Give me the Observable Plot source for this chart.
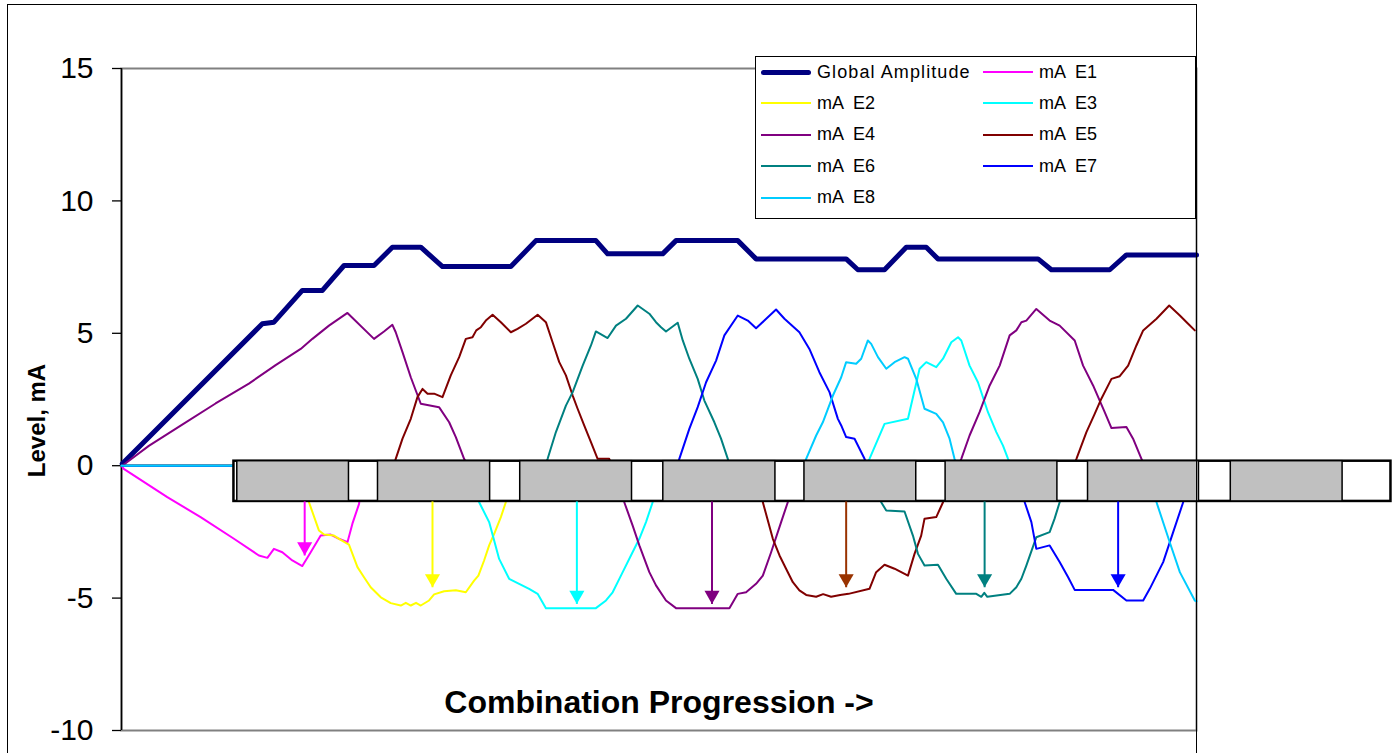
<!DOCTYPE html>
<html><head><meta charset="utf-8">
<script src="https://cdn.jsdelivr.net/npm/d3@7"></script>
<script src="https://cdn.jsdelivr.net/npm/@observablehq/plot@0.6"></script>
<style>
body{margin:0;background:#fff;overflow:hidden;font-family:"Liberation Sans",Arial,sans-serif}
#wrap{position:relative;width:1396px;height:753px;overflow:hidden}
#frame{position:absolute;left:7px;top:4px;width:1190px;height:800px;border:1.5px solid #000;pointer-events:none;box-sizing:border-box}
#legend{position:absolute;left:755px;top:56px;width:441px;height:163px;border:1px solid #000;background:#fff;box-sizing:border-box}
.item{position:absolute;height:24px;display:flex;align-items:center;white-space:pre;font-size:18px;color:#000}
.sw{display:inline-block;width:50px;margin-right:6px}
</style></head>
<body><div id="wrap"><div id="chart"></div><div id="legend"></div><div id="frame"></div></div>
<script>
// progression (0..100 across the plot), level in mA
const yTicks = [-10, -5, 0, 5, 10, 15];
const globalAmp = [[0.07,0.07],[13.10,5.36],[14.18,5.42],[16.82,6.62],[18.69,6.62],[20.70,7.56],[23.49,7.56],[25.20,8.25],[27.84,8.25],[29.86,7.52],[36.22,7.52],[38.55,8.5],[44.13,8.5],[45.22,8.0],[50.34,8.0],[51.58,8.5],[57.33,8.5],[59.03,7.81],[67.41,7.81],[68.50,7.4],[70.98,7.4],[73.00,8.25],[74.86,8.25],[75.95,7.81],[85.26,7.81],[86.50,7.4],[91.93,7.4],[93.48,7.96],[100,7.96]];
const e1 = [[0,0],[0.21,-0.12],[4.26,-1.19],[7.36,-1.94],[10.46,-2.76],[12.78,-3.39],[13.57,-3.48],[14.18,-3.14],[14.96,-3.27],[15.89,-3.58],[16.82,-3.79],[17.60,-3.27],[18.53,-2.64],[19.46,-2.60],[20.23,-2.76],[21.02,-2.89],[21.48,-2.19],[22.10,-1.44],[22.44,0],[100,0]];
const e2 = [[0,0],[17.13,0],[17.44,-1.38],[18.37,-2.45],[18.84,-2.60],[19.77,-2.64],[20.39,-2.80],[21.16,-2.98],[21.95,-3.83],[22.56,-4.21],[23.18,-4.59],[24.12,-4.97],[25.05,-5.19],[25.98,-5.28],[26.45,-5.18],[26.91,-5.28],[27.4,-5.18],[27.84,-5.28],[28.61,-5.09],[29.08,-4.86],[30.01,-4.74],[31.10,-4.70],[32.03,-4.78],[32.80,-4.34],[33.20,-4.15],[33.73,-3.58],[34.20,-3.01],[34.67,-2.57],[35.29,-1.94],[35.75,-1.38],[36.03,0],[100,0]];
const e3 = [[0,0],[32.96,0],[33.27,-1.38],[34.20,-2.13],[35.13,-3.52],[36.06,-4.27],[36.99,-4.46],[37.92,-4.65],[38.71,-4.84],[39.48,-5.38],[44.13,-5.38],[45.07,-5.09],[45.69,-4.78],[46.46,-4.15],[47.39,-3.39],[48.17,-2.76],[48.79,-2.13],[49.41,-1.38],[49.72,0],[69.27,0],[69.58,0.26],[70.98,1.58],[73.16,1.77],[74.24,3.66],[74.86,3.91],[75.79,3.72],[76.42,4.04],[77.19,4.66],[77.82,4.85],[78.12,4.73],[78.89,3.78],[79.67,3.15],[80.60,2.02],[81.38,1.27],[82.00,0.76],[82.47,0.26],[82.77,0],[100,0]];
const e4 = [[0.07,0],[2.54,0.75],[5.65,1.55],[8.75,2.35],[11.85,3.1],[14.34,3.8],[16.67,4.41],[17.76,4.79],[19.30,5.29],[21.02,5.77],[23.49,4.79],[24.42,5.07],[25.20,5.32],[25.51,5.04],[26.14,4.29],[26.91,3.34],[27.84,2.34],[29.54,2.21],[30.48,1.64],[31.10,1.08],[31.87,0.26],[32.22,0],[46.46,0],[46.77,-1.38],[47.55,-2.26],[48.17,-3.01],[49.10,-4.02],[49.72,-4.52],[50.65,-5.09],[51.58,-5.38],[56.55,-5.38],[57.33,-4.84],[58.10,-4.78],[59.03,-4.46],[59.66,-4.15],[60.43,-3.27],[61.36,-2.13],[61.98,-1.38],[62.29,0],[77.84,0],[78.12,0.26],[78.89,1.14],[79.82,2.02],[80.76,3.03],[81.69,3.78],[82.62,4.92],[83.24,5.11],[83.71,5.42],[84.17,5.48],[85.10,5.92],[86.34,5.48],[87.27,5.29],[88.67,4.73],[89.45,3.78],[90.38,3.03],[91.46,2.02],[92.09,1.42],[93.48,1.46],[94.10,1.02],[94.88,0.26],[95.16,0],[100,0]];
const e5 = [[0,0],[25.33,0],[25.51,0.26],[26.14,1.02],[26.91,1.77],[27.53,2.59],[28.00,2.90],[28.47,2.72],[29.08,2.72],[29.86,2.59],[30.63,3.41],[31.41,4.10],[32.03,4.79],[32.65,4.85],[33.00,5.11],[33.43,5.23],[33.89,5.48],[34.52,5.70],[35.29,5.42],[36.22,5.04],[36.84,5.17],[37.62,5.36],[38.71,5.70],[39.48,5.42],[40.10,4.66],[40.72,3.91],[41.34,3.41],[41.97,2.65],[42.43,2.15],[43.04,1.52],[43.67,0.89],[44.29,0.26],[45.37,0.26],[45.62,0],[59.31,0],[59.66,-1.38],[60.59,-2.76],[61.21,-3.39],[61.82,-3.89],[62.45,-4.40],[63.06,-4.71],[63.69,-4.88],[64.62,-4.95],[65.27,-4.85],[66.01,-4.95],[66.85,-4.88],[67.63,-4.84],[69.58,-4.65],[70.20,-4.02],[70.98,-3.74],[71.91,-3.89],[73.16,-4.15],[73.77,-3.33],[74.39,-2.64],[74.70,-2.00],[75.79,-1.94],[76.42,-1.38],[76.72,0],[88.55,0],[88.83,0.26],[89.76,1.27],[90.53,1.96],[91.15,2.53],[92.09,3.28],[92.86,3.38],[93.64,3.78],[94.41,4.54],[95.04,5.11],[96.28,5.55],[97.46,6.05],[98.45,5.67],[99.22,5.36],[99.84,5.11]];
const e6 = [[0,0],[39.39,0],[39.64,0.26],[40.41,1.27],[41.34,2.27],[41.97,2.78],[42.90,3.78],[43.67,4.54],[44.13,5.07],[45.22,4.82],[46.00,5.29],[46.93,5.55],[48.02,6.05],[49.10,5.74],[49.72,5.42],[50.19,5.23],[50.65,5.07],[51.74,5.40],[52.21,4.73],[52.82,4.04],[53.60,3.28],[54.22,2.46],[55.15,1.64],[55.77,1.02],[56.40,0.26],[56.61,0],[70.39,0],[70.67,-1.38],[71.14,-1.69],[72.84,-1.73],[73.62,-2.64],[74.09,-3.33],[74.70,-3.77],[75.95,-3.74],[76.72,-4.27],[77.65,-4.84],[79.52,-4.84],[79.98,-4.95],[80.26,-4.80],[80.54,-4.95],[82.62,-4.84],[83.24,-4.59],[83.71,-4.27],[84.17,-3.77],[85.10,-2.70],[86.34,-2.51],[86.80,-2.0],[87.27,-1.38],[87.52,0],[100,0]];
const e7 = [[0,0],[51.68,0],[51.89,0.26],[52.82,1.39],[53.60,2.21],[54.38,3.15],[55.31,3.97],[56.08,4.92],[57.33,5.67],[58.26,5.48],[59.03,5.19],[59.80,5.48],[60.89,5.90],[61.67,5.55],[63.06,5.04],[63.99,4.41],[64.92,3.53],[65.86,2.78],[66.64,1.77],[66.95,1.52],[67.41,1.08],[68.19,1.02],[69.12,0.26],[69.37,0],[83.80,0],[84.02,-1.38],[84.64,-2.13],[85.10,-3.14],[86.34,-3.01],[87.27,-3.64],[88.06,-4.21],[88.67,-4.69],[92.24,-4.69],[93.48,-5.09],[95.04,-5.09],[95.65,-4.65],[96.90,-3.64],[97.83,-2.51],[98.76,-1.38],[98.97,0],[100,0]];
const e8 = [[0,0],[63.50,0],[63.69,0.26],[64.62,1.14],[65.24,1.64],[66.18,2.65],[66.95,3.34],[67.41,3.91],[68.34,3.85],[68.81,4.04],[69.43,4.73],[69.74,4.60],[70.37,4.10],[71.14,3.66],[71.91,3.91],[72.84,4.10],[73.16,4.04],[73.93,3.28],[74.70,2.15],[75.79,1.96],[76.42,1.64],[77.03,1.02],[77.49,0.26],[77.75,0],[96.00,0],[96.28,-1.38],[97.51,-2.89],[98.45,-4.02],[99.84,-5.09],[100,-5.12]];

const seriesNames = ["Global Amplitude","mA  E1","mA  E2","mA  E3","mA  E4","mA  E5","mA  E6","mA  E7","mA  E8"];
const seriesColors = ["#000080","#FF00FF","#FFFF00","#00FFFF","#800080","#800000","#008080","#0000FF","#00CCFF"];
const seriesWidths = [5,2,2,2,2,2,2,2,2];
const seriesData = [globalAmp,e1,e2,e3,e4,e5,e6,e7,e8];

// combination bar
const barStart = 10.46, barEnd = 118.09, barTop = 0.17, barBottom = -1.35;
const barGrayStart = [10.77,23.86,37.09,50.40,63.53,76.66,89.91,103.19];
const barGrayEnd = [21.16,34.29,47.49,60.83,73.93,87.06,100.23,113.59];

// cathode arrows
const arrowX = [17.04,28.93,42.36,54.93,67.41,80.29,92.71];
const arrowTip = [-3.39,-4.59,-5.22,-5.22,-4.59,-4.59,-4.59];
const arrowColors = ["#FF00FF","#FFFF00","#00FFFF","#800080","#993300","#008080","#0000FF"];

const arrows = arrowX.map((x,i)=>({x, tip: arrowTip[i], c: arrowColors[i]}));
const grays = barGrayStart.map((s,i)=>({s, e: barGrayEnd[i]}));

const downTriangle = {draw(ctx, size){ const s = Math.sqrt(size); ctx.moveTo(0,0); ctx.lineTo(-0.76*s,-1.32*s); ctx.lineTo(0.76*s,-1.32*s); ctx.closePath(); }};

const lineMarks = seriesData.map((d,i)=>Plot.line(d,{x:p=>p[0], y:p=>p[1], stroke: seriesColors[i], strokeWidth: seriesWidths[i], strokeLinejoin:"round", strokeLinecap:"round"}));

const chart = Plot.plot({
  width: 1396, height: 753,
  marginLeft: 121, marginRight: 200, marginTop: 68, marginBottom: 23,
  x: {domain: [0,100], axis: null},
  y: {domain: [-10,15], axis: null},
  style: {fontFamily: '"Liberation Sans", Arial, sans-serif', background: "white", color: "black", overflow: "visible"},
  marks: [
    Plot.frame({stroke: "#808080", strokeWidth: 2}),
    Plot.axisY({ticks: yTicks, tickSize: 9, tickPadding: 19, fontSize: 30, tickFormat: d=>String(d), label: null, stroke: "black", strokeWidth: 1.3}),
    Plot.ruleX([0], {stroke: "black", strokeWidth: 1.5}),
    ...lineMarks,
    Plot.rect([0], {x1: ()=>barStart, x2: ()=>barEnd, y1: ()=>barTop, y2: ()=>barBottom, fill: "white", stroke: "black", strokeWidth: 2.5}),
    Plot.rect(grays, {x1: "s", x2: "e", y1: ()=>barTop, y2: ()=>barBottom, fill: "#C0C0C0", stroke: "black", strokeWidth: 1.5}),
    Plot.link(arrows, {x1: "x", x2: "x", y1: ()=>barBottom, y2: "tip", stroke: d=>d.c, strokeWidth: 2}),
    Plot.dot(arrows, {x: "x", y: "tip", symbol: downTriangle, r: 5.6, fill: d=>d.c, stroke: "none"}),
    Plot.text(["Level, mA"], {frameAnchor: "left", dx: -84, dy: 21, rotate: -90, fontSize: 24, fontWeight: "bold", textAnchor: "middle", fill: "black"}),
    Plot.text(["Combination Progression ->"], {frameAnchor: "bottom", dy: -28, fontSize: 32, fontWeight: "bold", textAnchor: "middle", lineAnchor: "middle", fill: "black"})
  ]
});
document.getElementById("chart").appendChild(chart);

const legend = document.getElementById("legend");
seriesNames.forEach((name,i)=>{
  const col = i % 2, row = Math.floor(i/2);
  const it = document.createElement("div");
  it.className = "item";
  it.style.left = (col ? 227 : 5) + "px";
  it.style.top = (15 + row*31.4 - 12) + "px";
  const sw = document.createElement("span");
  sw.className = "sw";
  sw.style.height = seriesWidths[i] + "px";
  sw.style.background = seriesColors[i];
  if (seriesWidths[i] > 3) sw.style.borderRadius = "3px";
  const tx = document.createElement("span");
  tx.textContent = name;
  if (i === 0) tx.style.letterSpacing = "1.1px";
  it.appendChild(sw); it.appendChild(tx);
  legend.appendChild(it);
});
</script></body></html>
